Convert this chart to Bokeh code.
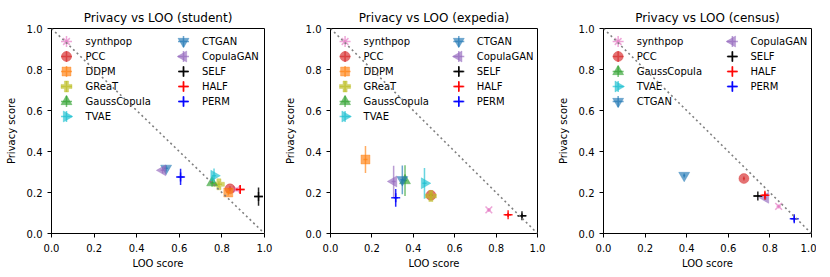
import math
from bokeh.plotting import figure
from bokeh.layouts import row
from bokeh.models import Range1d, FixedTicker, Slope, ColumnDataSource
from bokeh.core.properties import value
from bokeh.embed import file_html
from bokeh.resources import INLINE

nan = float("nan")

# ---------------- data ----------------
methods = ["synthpop", "PCC", "DDPM", "GReaT", "GaussCopula", "TVAE",
           "CTGAN", "CopulaGAN", "SELF", "HALF", "PERM"]

student_names = ["synthpop", "PCC", "DDPM", "GReaT", "GaussCopula", "TVAE",
                 "CTGAN", "CopulaGAN", "SELF", "HALF", "PERM"]
student_loo = [0.868, 0.838, 0.830, 0.786, 0.754, 0.763, 0.538, 0.522, 0.972, 0.886, 0.606]
student_priv = [0.215, 0.218, 0.200, 0.240, 0.248, 0.282, 0.318, 0.308, 0.180, 0.215, 0.276]
student_loo_err = [0.010, 0.010, 0.010, 0.015, 0.010, 0.010, 0.010, 0.010, 0.020, 0.020, 0.015]
student_priv_err = [0.010, 0.012, 0.015, 0.015, 0.020, 0.035, 0.015, 0.015, 0.045, 0.020, 0.040]

expedia_names = ["synthpop", "PCC", "DDPM", "GReaT", "GaussCopula", "TVAE",
                 "CTGAN", "CopulaGAN", "SELF", "HALF", "PERM"]
expedia_loo = [0.765, 0.485, 0.169, 0.485, 0.360, 0.454, 0.347, 0.305, 0.925, 0.858, 0.315]
expedia_priv = [0.115, 0.186, 0.361, 0.183, 0.258, 0.245, 0.262, 0.254, 0.087, 0.091, 0.174]
expedia_loo_err = [0.010, 0.010, 0.010, 0.005, 0.010, 0.010, 0.010, 0.010, 0.020, 0.015, 0.010]
expedia_priv_err = [0.010, 0.010, 0.066, 0.020, 0.075, 0.075, 0.070, 0.076, 0.010, 0.010, 0.043]

census_names = ["synthpop", "PCC", "GaussCopula", "TVAE", "CTGAN",
                "CopulaGAN", "SELF", "HALF", "PERM"]
census_loo = [0.842, 0.675, nan, nan, 0.388, 0.779, 0.742, 0.776, 0.917]
census_priv = [0.132, 0.268, nan, nan, 0.283, 0.174, 0.183, 0.186, 0.072]
census_loo_err = [0.010, 0.005, nan, nan, 0.005, 0.005, 0.020, 0.015, 0.015]
census_priv_err = [0.010, 0.010, nan, nan, 0.010, 0.010, 0.005, 0.015, 0.015]

ticks = [0.0, 0.2, 0.4, 0.6, 0.8, 1.0]
tick_labels = ["0.0", "0.2", "0.4", "0.6", "0.8", "1.0"]

# ---------------- styles ----------------
STYLE = {
    "synthpop":    dict(color="#e377c2", marker="x", angle=0.0, size=9.5, alpha=0.65),
    "PCC":         dict(color="#d62728", marker="circle", angle=0.0, size=10, alpha=0.65),
    "DDPM":        dict(color="#ff7f0e", marker="square", angle=0.0, size=9, alpha=0.65),
    "GReaT":       dict(color="#bcbd22", marker="plus", angle=0.0, size=11, alpha=0.65),
    "GaussCopula": dict(color="#2ca02c", marker="triangle", angle=0.0, size=11, alpha=0.65),
    "TVAE":        dict(color="#17becf", marker="triangle", angle=-math.pi / 2, size=11, alpha=0.65),
    "CTGAN":       dict(color="#1f77b4", marker="inverted_triangle", angle=0.0, size=11, alpha=0.65),
    "CopulaGAN":   dict(color="#9467bd", marker="triangle", angle=math.pi / 2, size=11, alpha=0.65),
    "SELF":        dict(color="#000000", marker="cross", angle=0.0, size=9, alpha=0.85),
    "HALF":        dict(color="#ff0000", marker="cross", angle=0.0, size=9, alpha=0.85),
    "PERM":        dict(color="#0000ff", marker="cross", angle=0.0, size=9, alpha=0.85),
}

FONT = "DejaVu Sans"
FRAME_W, FRAME_H = 213, 205
LEG_GLYPH_X = [15, 132]
LEG_TEXT_X = [34, 150.5]
LEG_TOP = 13
LEG_STEP = 15


def make_panel(title, names, loo, priv, loo_err, priv_err, width, left, right):
    p = figure(width=width, height=276, output_backend="svg", toolbar_location=None,
               x_range=Range1d(0, 1), y_range=Range1d(0, 1),
               min_border_left=left, min_border_right=right,
               min_border_top=28, min_border_bottom=43)
    p.title.text = title
    p.title.text_font = FONT
    p.title.text_font_size = "12px"
    p.title.text_font_style = "normal"
    p.title.text_color = "black"
    p.title.align = "center"
    p.title.standoff = 7

    p.xgrid.visible = False
    p.ygrid.visible = False
    p.outline_line_color = "black"
    p.outline_line_width = 1
    p.outline_line_alpha = 1
    p.background_fill_color = "white"
    p.border_fill_color = "white"

    for ax in (p.xaxis[0], p.yaxis[0]):
        ax.ticker = FixedTicker(ticks=ticks)
        ax.major_label_overrides = {t: l for t, l in zip(ticks, tick_labels)}
        ax.major_label_text_font = FONT
        ax.major_label_text_font_size = "10px"
        ax.major_label_text_color = "black"
        ax.axis_label_text_font = FONT
        ax.axis_label_text_font_size = "10px"
        ax.axis_label_text_font_style = "normal"
        ax.axis_label_text_color = "black"
        ax.major_tick_out = 4
        ax.major_tick_in = 0
        ax.minor_tick_out = 0
        ax.minor_tick_in = 0
        ax.axis_line_color = "black"
        ax.major_tick_line_color = "black"
    p.xaxis.major_label_standoff = 6
    p.xaxis.axis_label_standoff = 3
    p.yaxis.major_label_standoff = 5
    p.yaxis.axis_label_standoff = 7
    p.xaxis.axis_label = "LOO score"
    p.yaxis.axis_label = "Privacy score"

    p.add_layout(Slope(gradient=-1, y_intercept=1, line_color="#808080",
                       line_dash="2 3", line_width=1.6))

    for i, name in enumerate(names):
        st = STYLE[name]
        x, y, xe, ye = loo[i], priv[i], loo_err[i], priv_err[i]
        src = ColumnDataSource(dict(x=[x], y=[y], x0=[x - xe], x1=[x + xe],
                                    ylo=[y - ye], yhi=[y + ye]))
        p.segment(x0="x", y0="ylo", x1="x", y1="yhi", source=src,
                  line_color=st["color"], line_alpha=st["alpha"], line_width=1.5)
        p.segment(x0="x0", y0="y", x1="x1", y1="y", source=src,
                  line_color=st["color"], line_alpha=st["alpha"], line_width=1.5)
        p.scatter(x="x", y="y", source=src, marker=st["marker"], angle=st["angle"],
                  size=st["size"], fill_color=st["color"], fill_alpha=st["alpha"],
                  line_color=st["color"], line_alpha=st["alpha"],
                  line_width=1.5 if st["marker"] in ("x", "cross") else 0.5)

    # legend (two columns, drawn in frame coordinates)
    n = len(names)
    nrows = (n + 1) // 2
    ltx, lty, lab = [], [], []
    for k, name in enumerate(names):
        col, r = divmod(k, nrows)
        gx = LEG_GLYPH_X[col] / FRAME_W
        gy = 1 - (LEG_TOP + r * LEG_STEP) / FRAME_H
        st = STYLE[name]
        p.scatter(x=[gx], y=[gy], marker=st["marker"], angle=st["angle"],
                  size=st["size"], fill_color=st["color"], fill_alpha=st["alpha"],
                  line_color=st["color"], line_alpha=st["alpha"],
                  line_width=1.5 if st["marker"] in ("x", "cross") else 0.5)
        p.scatter(x=[gx], y=[gy], marker="cross", size=11,
                  line_color=st["color"], line_alpha=st["alpha"], line_width=1.5)
        ltx.append(LEG_TEXT_X[col] / FRAME_W)
        lty.append(gy)
        lab.append(name)
    p.text(x=ltx, y=lty, text=lab, text_font=value(FONT), text_font_size="10px",
           text_baseline="middle", text_align="left", text_color="black")
    return p


p1 = make_panel("Privacy vs LOO (student)", student_names, student_loo, student_priv,
                student_loo_err, student_priv_err, 281, 51, 17)
p2 = make_panel("Privacy vs LOO (expedia)", expedia_names, expedia_loo, expedia_priv,
                expedia_loo_err, expedia_priv_err, 273, 43, 17)
p3 = make_panel("Privacy vs LOO (census)", census_names, census_loo, census_priv,
                census_loo_err, census_priv_err, 262, 44, 5)

layout = row(p1, p2, p3)
open("out.html", "w").write(file_html(layout, INLINE))
